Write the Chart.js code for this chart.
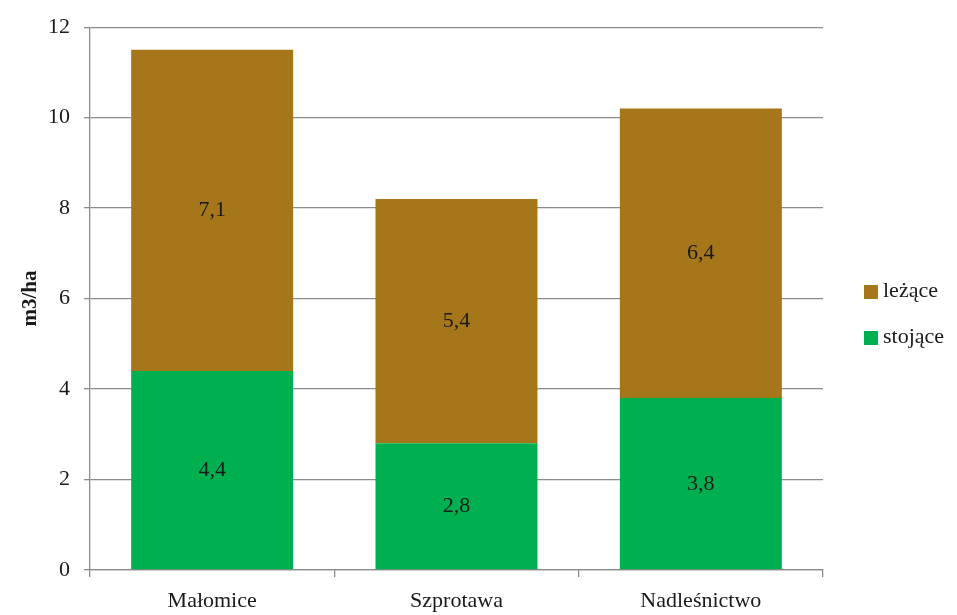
<!DOCTYPE html>
<html>
<head>
<meta charset="utf-8">
<title>m3/ha</title>
<script src="https://cdn.jsdelivr.net/npm/chart.js@4/dist/chart.umd.min.js"></script>
<style>
  html, body { margin: 0; padding: 0; background: #fff; }
  #container { width: 957px; height: 615px; }
</style>
</head>
<body>
<div id="container">
  <canvas id="canvas"></canvas></div>
<script>

var categories = ['Małomice', 'Szprotawa', 'Nadleśnictwo'];
var stojace = [4.4, 2.8, 3.8];
var lezace = [7.1, 5.4, 6.4];
var yTicks = [0, 2, 4, 6, 8, 10, 12];

var fontFamily = "'Liberation Serif', 'DejaVu Serif', serif";
var gridColor = '#8c8c8c';

// values in the middle of each segment
var barLabels = {
  id: 'barLabels',
  afterDatasetsDraw: function(chart) {
    var ctx = chart.ctx;
    ctx.save();
    ctx.font = '22px ' + fontFamily;
    ctx.fillStyle = '#1a1a1a';
    ctx.textAlign = 'center';
    ctx.textBaseline = 'middle';
    chart.data.datasets.forEach(function(ds, i) {
      var meta = chart.getDatasetMeta(i);
      meta.data.forEach(function(bar, j) {
        var y = (bar.y + bar.base) / 2;
        ctx.fillText(String(ds.data[j]).replace('.', ','), bar.x, y);
      });
    });
    ctx.restore();
  }
};

// legend on the right, top item = last dataset
var sideLegend = {
  id: 'sideLegend',
  afterDraw: function(chart) {
    var ctx = chart.ctx;
    ctx.save();
    ctx.font = '22px ' + fontFamily;
    ctx.textBaseline = 'middle';
    var items = chart.data.datasets.slice().reverse();
    var x = 864, y0 = 291, step = 46;
    items.forEach(function(ds, i) {
      var y = y0 + i * step;
      ctx.fillStyle = ds.backgroundColor;
      ctx.fillRect(x, y - 6, 14, 14);
      ctx.fillStyle = '#1a1a1a';
      ctx.fillText(ds.label, x + 19, y);
    });
    ctx.restore();
  }
};

var ctx = document.getElementById('canvas').getContext('2d');
window.myBar = new Chart(ctx, {
  type: 'bar',
  data: {
    labels: categories,
    datasets: [
      { label: 'stojące', data: stojace, backgroundColor: '#00b050' },
      { label: 'leżące', data: lezace, backgroundColor: '#a5761a' }
    ]
  },
  plugins: [barLabels, sideLegend],
  options: {
    responsive: true,
    maintainAspectRatio: false,
    animation: false,
    layout: { padding: { top: 27, right: 134, left: 0, bottom: 0 } },
    datasets: { bar: { categoryPercentage: 1, barPercentage: 0.663 } },
    plugins: {
      legend: { display: false },
      tooltip: { enabled: false }
    },
    scales: {
      x: {
        stacked: true,
        grid: { display: true, drawOnChartArea: false, offset: true, color: gridColor, tickLength: 7, lineWidth: 1.3 },
        border: { color: gridColor, width: 1.3 },
        ticks: { color: '#1a1a1a', font: { family: fontFamily, size: 22 }, padding: 11 },
        afterFit: function(scale) { scale.height = 45; }
      },
      y: {
        stacked: true,
        min: 0,
        max: 12,
        afterBuildTicks: function(scale) {
          scale.ticks = yTicks.map(function(v) { return { value: v }; });
        },
        grid: { color: gridColor, tickLength: 6, lineWidth: 1.3 },
        border: { color: gridColor, width: 1.3 },
        ticks: { color: '#1a1a1a', font: { family: fontFamily, size: 22 }, padding: 14 },
        title: {
          display: true,
          text: 'm3/ha',
          color: '#1a1a1a',
          padding: { top: 18, bottom: 0 },
          font: { family: fontFamily, size: 21, weight: 'bold' }
        },
        afterFit: function(scale) { scale.width = 90; }
      }
    }
  }
});

</script>
</body>
</html>
